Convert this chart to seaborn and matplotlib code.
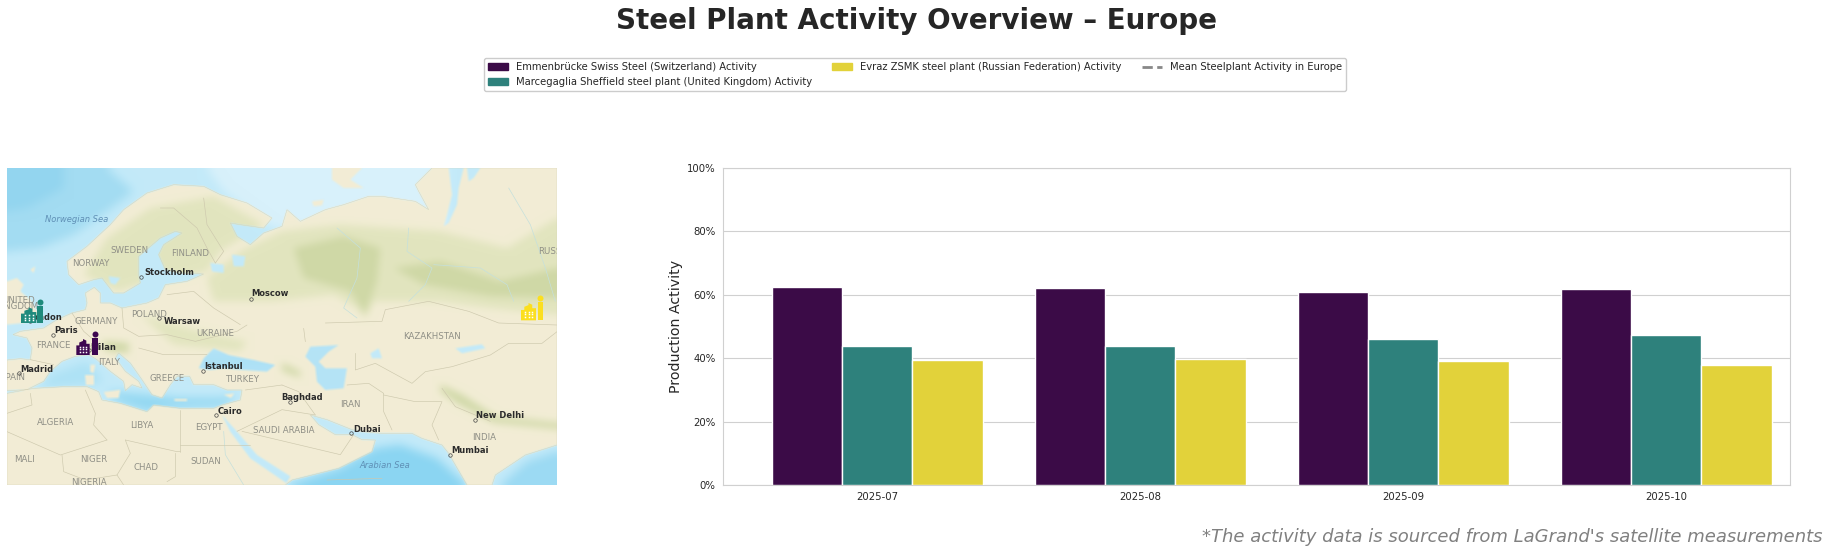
import matplotlib
matplotlib.use("Agg")
import matplotlib.pyplot as plt
from matplotlib.lines import Line2D
from matplotlib.patches import Patch
from matplotlib.ticker import PercentFormatter
import numpy as np
import pandas as pd
import seaborn as sns

months = ["2025-07", "2025-08", "2025-09", "2025-10"]
emmen = [62.4, 62.1, 61.0, 61.7]
sheffield = [44.0, 44.0, 45.9, 47.4]
zsmk = [39.3, 39.6, 39.0, 37.7]
series_names = ["Emmenbrücke Swiss Steel (Switzerland) Activity",
                "Marcegaglia Sheffield steel plant (United Kingdom) Activity",
                "Evraz ZSMK steel plant (Russian Federation) Activity"]
mean_name = "Mean Steelplant Activity in Europe"
bar_colors = ["#3b0b47", "#2e817c", "#e2d23a"]
icon_colors = ["#3d0650", "#1f8a7c", "#fbdf1f"]

# Base map outlines, in a 1650 x 951 map coordinate frame
land_main = [(0,576),(40,572),(70,575),(75,540),(60,510),(18,500),(40,490),(110,480),(150,455),(195,435),(235,425),(240,405),(235,375),(262,358),(280,375),(280,405),(310,405),(345,420),(420,405),(455,390),(475,350),(540,340),(590,318),(520,315),(475,305),(455,260),(470,230),(525,195),(505,190),(460,210),(395,265),(395,320),(400,345),(350,375),(320,375),(285,330),(260,335),(215,350),(185,320),(180,280),(240,235),(310,170),(350,125),(420,75),(500,50),(590,55),(640,80),(720,105),(795,150),(770,180),(700,170),(670,165),(690,205),(730,230),(770,195),(825,175),(840,125),(880,160),(955,125),(1010,110),(1085,85),(1125,85),(1225,100),(1265,125),(1235,70),(1225,50),(1275,0),(1650,0),(1650,831),(1555,861),(1465,921),(1455,951),(1380,951),(1325,856),(1305,831),(1245,811),(1215,796),(1125,796),(1065,791),(1035,785),(960,755),(910,741),(935,770),(985,800),(1035,800),(1065,815),(1105,816),(1095,851),(995,901),(855,936),(835,951),(0,951),(0,676),(80,661),(170,656),(240,656),(275,671),(285,696),(340,706),(420,731),(440,711),(520,721),(620,721),(645,711),(700,696),(705,666),(660,666),(620,650),(560,650),(548,625),(510,625),(490,650),(465,690),(435,680),(405,635),(370,585),(335,555),(325,570),(355,610),(395,640),(405,660),(375,650),(355,668),(350,640),(310,610),(270,575),(245,560),(205,565),(165,580),(130,610),(110,640),(60,665),(0,668)]
islands = [
    [(0,340),(30,330),(50,350),(40,370),(70,395),(90,430),(110,450),(50,465),(0,470)],
    [(235,620),(260,620),(260,652),(238,652)],
    [(250,590),(265,590),(260,615),(250,612)],
    [(290,672),(340,665),(335,690),(300,690)],
    [(650,680),(682,676),(672,690)],
    [(500,692),(540,692),(540,700),(505,700)],
    [(975,0),(1065,0),(1030,35),(1070,60),(1010,60),(975,35)],
    [(915,100),(950,95),(945,112),(920,115)],
    [(70,305),(85,295),(80,315)],
]
water_polys = [
    [(575,601),(590,571),(620,541),(665,561),(740,576),(805,591),(780,611),(710,606),(650,601),(610,606)],
    [(895,566),(910,536),(995,531),(965,551),(935,581),(955,601),(1020,601),(1010,661),(955,666),(930,641),(925,596)],
    [(1090,556),(1115,541),(1125,571),(1095,571)],
    [(1345,541),(1425,529),(1435,541),(1365,556)],
    [(645,741),(690,791),(750,861),(850,925),(838,945),(810,926),(730,871),(670,791)],
    [(1325,0),(1370,0),(1355,60),(1350,110),(1325,165),(1310,175),(1320,140),(1335,80)],
    [(1380,0),(1420,0),(1400,30),(1385,40)],
    [(610,285),(650,290),(650,315),(615,310)],
    [(675,260),(715,265),(710,295),(680,295)],
    [(305,325),(340,330),(325,350),(310,345)],
]
sea_tones = [
    ([(0,0),(300,0),(380,70),(300,130),(200,200),(100,240),(0,250)], "#a3dcf2"),
    ([(0,0),(170,0),(170,60),(60,120),(0,130)], "#93d5ef"),
    ([(600,0),(1320,0),(1320,180),(800,180),(650,70)], "#d8f1fb"),
    ([(300,670),(420,680),(520,690),(640,690),(690,680),(650,715),(500,720),(420,730),(330,700)], "#93d8f2"),
    ([(100,660),(130,620),(240,580),(290,640),(250,650)], "#aee2f5"),
    ([(840,951),(1000,900),(1105,840),(1180,830),(1290,870),(1380,951)], "#8bd5f2"),
    ([(1480,951),(1560,880),(1650,850),(1650,951)], "#9cdaf3"),
    ([(570,540),(820,540),(820,620),(570,620)], "#aee1f6"),
    ([(880,520),(1030,520),(1030,680),(880,680)], "#b4e3f6"),
]
soft_green = [
    [(600,330),(700,250),(825,190),(1000,170),(1300,190),(1500,240),(1650,150),(1650,440),(1450,420),(1300,400),(1100,400),(1075,450),(1050,420),(980,380),(800,400),(620,400)],
    [(230,320),(300,210),(430,120),(620,85),(770,170),(640,250),(600,310),(480,340),(400,350),(330,370)],
    [(400,440),(540,480),(720,520),(700,550),(500,530)],
]
strong_green = [
    [(860,240),(1010,205),(1120,240),(1110,340),(1075,440),(1030,370),(890,330)],
    [(1160,300),(1300,280),(1480,340),(1650,300),(1650,390),(1450,385),(1250,350)],
    [(285,520),(365,525),(365,555),(295,548)],
    [(1300,650),(1365,680),(1465,745),(1650,765),(1650,782),(1460,763),(1355,708),(1300,670)],
    [(825,585),(880,611),(880,628),(825,608)],
]
border_lines = [
    [(0,736),(75,711),(70,676)],
    [(0,791),(160,861),(300,816)],
    [(235,666),(265,736),(260,771),(300,816)],
    [(520,726),(520,851)],
    [(355,816),(510,851),(520,851)],
    [(520,831),(730,831)],
    [(505,856),(505,926),(480,941)],
    [(355,816),(370,856),(330,921),(350,951)],
    [(165,861),(170,911),(235,936),(330,921)],
    [(955,465),(1125,460),(1135,425),(1265,400),(1385,430),(1475,465),(1650,471)],
    [(890,481),(895,521)],
    [(1045,556),(1045,606),(1105,586),(1215,646),(1255,611),(1335,596),(1450,561),(1505,526),(1605,526),(1650,491)],
    [(1020,651),(1085,646),(1130,676),(1130,731),(1155,786)],
    [(1130,681),(1225,701),(1305,701),(1275,771),(1295,816)],
    [(1305,661),(1345,716),(1450,760)],
    [(825,651),(875,671),(925,741)],
    [(715,666),(825,651)],
    [(690,790),(825,725),(925,741)],
    [(705,790),(1000,860),(1040,800)],
    [(960,936),(1125,931)],
    [(345,420),(350,480),(395,505),(480,500),(565,520),(690,490),(720,471)],
    [(195,435),(230,490),(265,520),(230,555)],
    [(480,380),(560,370),(620,420),(700,470)],
    [(70,575),(140,590)],
    [(460,120),(500,120),(570,180),(600,240),(625,285)],
    [(590,90),(600,170),(650,250),(625,285)],
    [(395,540),(470,560),(600,560)],
]
river_lines = [
    [(1205,180),(1200,250),(1275,300),(1255,350),(1205,400)],
    [(1505,60),(1570,170),(1615,300),(1645,400)],
    [(990,180),(1060,240),(1050,330),(1010,420),(1050,450)],
    [(1280,290),(1420,300),(1500,350),(1520,400)],
    [(650,790),(655,860),(710,951)],
]
country_labels = [("SWEDEN",368,247),("NORWAY",250,286),("FINLAND",550,257),("POLAND",425,440),("GERMANY",268,461),("UKRAINE",625,496),("FRANCE",140,531),("ITALY",305,584),("GREECE",480,631),("TURKEY",708,633),("KAZAKHSTAN",1275,506),("IRAN",1030,710),("ALGERIA",145,763),("LIBYA",403,773),("EGYPT",605,780),("SAUDI ARABIA",830,788),("INDIA",1432,808),("MALI",53,876),("NIGER",260,876),("CHAD",416,897),("SUDAN",595,880),("NIGERIA",245,943),("SPAIN",18,628),("RUSSIA",1640,250),("UNITED",35,397),("KINGDOM",32,415)]
city_labels = [("Stockholm",487,313,403,326),("Moscow",790,377,733,392),("Warsaw",525,459,455,451),("London",112,448,70,460),("Paris",177,488,138,501),("Milan",290,537,245,545),("Madrid",88,603,35,616),("Istanbul",650,596,588,609),("Baghdad",885,689,850,703),("Cairo",668,729,626,741),("Dubai",1080,783,1033,794),("New Delhi",1480,744,1405,757),("Mumbai",1390,848,1330,861)]
sea_labels = [("Norwegian Sea",208,155),("Arabian Sea",1133,892)]
building_boxes = [(208,248,513,561),(42,88,418,465),(1542,1587,405,457)]
chimney_boxes = [(255,273,493,561),(90,108,395,465),(1592,1608,385,457)]

sns.set_theme(style="whitegrid")
plt.rcParams["font.family"] = ["DejaVu Sans"]
W, H = 1828, 554
fig = plt.figure(figsize=(W/100, H/100), dpi=100)

def px_axes(x0, x1, y0, y1):
    return fig.add_axes([x0/W, 1-y1/H, (x1-x0)/W, (y1-y0)/H])

def soft(img, passes=2, r=1):
    k = np.ones(2*r+1)/(2*r+1)
    out = img.astype(float)
    for _ in range(passes):
        for axis in (0, 1):
            pad = [(r, r) if a == axis else (0, 0) for a in range(3)]
            p = np.pad(out, pad, mode="edge")
            out = np.apply_along_axis(lambda v: np.convolve(v, k, mode="valid"), axis, p)
    return out

def paint(draw, face):
    f = plt.figure(figsize=(5.5, 3.17), dpi=100)
    a = f.add_axes([0, 0, 1, 1])
    a.set_xlim(0, 1650); a.set_ylim(951, 0); a.axis("off")
    a.add_patch(plt.Rectangle((0, 0), 1650, 951, color=face, lw=0))
    draw(a)
    f.canvas.draw()
    rgb = np.asarray(f.canvas.buffer_rgba())[..., :3].copy()
    plt.close(f)
    return rgb / 255

def draw_sea(a):
    for p, c in sea_tones:
        a.fill(*zip(*p), color=c, lw=0)

def draw_ground(a):
    for p in soft_green:
        a.fill(*zip(*p), color="#e2e5bf", lw=0)
    for p in strong_green:
        a.fill(*zip(*p), color="#cfd8a6", lw=0)

def draw_mask(a):
    a.fill(*zip(*land_main), color="white", lw=0)
    for p in islands:
        a.fill(*zip(*p), color="white", lw=0)
    for p in water_polys:
        a.fill(*zip(*p), color="black", lw=0)

def base_map():
    sea = soft(paint(draw_sea, "#c3eaf9"), passes=2, r=5)
    ground = soft(paint(draw_ground, "#f2edd5"), passes=2, r=4)
    mask = soft(paint(draw_mask, "black"), passes=1, r=1)
    return sea*(1-mask) + ground*mask

# ---------- map
m = px_axes(7, 557, 168, 485)
m.imshow(base_map(), extent=(0, 1650, 951, 0), aspect="auto", interpolation="bilinear", zorder=0)
m.set_xlim(0, 1650); m.set_ylim(951, 0); m.axis("off")
for l in river_lines:
    m.plot(*zip(*l), color="#c5e0dc", lw=0.5, zorder=1)
for l in border_lines:
    m.plot(*zip(*l), color="#cdc8ad", lw=0.45, zorder=1.2)
m.fill(*zip(*land_main), fc="none", ec="#d3d2b8", lw=0.3, zorder=1.4)
for t, x, y in country_labels:
    m.text(x, y, t, ha="center", va="center", fontsize=6.2, color="#8f8f86", zorder=3, clip_on=True)
for t, x, y, cx, cy in city_labels:
    m.text(x, y, t, ha="center", va="center", fontsize=6, color="#2b2b2b", fontweight="bold", zorder=3, clip_on=True)
    m.plot([cx], [cy], "o", ms=2.5, mfc="none", mec="#444444", mew=0.5, zorder=3)
for t, x, y in sea_labels:
    m.text(x, y, t, ha="center", va="center", fontsize=6, color="#5f8fb5", style="italic", zorder=3)
for (x0, x1, y0, y1), (c0, c1, c2, c3), c in zip(building_boxes, chimney_boxes, icon_colors):
    w = x1 - x0
    h = y1 - y0
    xs = [x0, x0, x0+.22*w, x0+.22*w, x0+.5*w, x0+.5*w, x0+.75*w, x0+.75*w, x1, x1]
    ys = [y1, y0+.4*h, y0+.4*h, y0+.22*h, y0+.12*h, y0, y0+.1*h, y0+.3*h, y0+.3*h, y1]
    m.fill(xs, ys, color=c, lw=0, zorder=4)
    m.fill([c0, c0, c1, c1], [c3, c2+.25*(c3-c2), c2+.25*(c3-c2), c3], color=c, lw=0, zorder=4)
    m.plot([(c0+c1)/2], [c2+.09*(c3-c2)], "o", ms=4.3, color=c, mew=0, zorder=4)
    for i in range(3):
        for j in range(3):
            m.plot([x0+(.25+.25*i)*w], [y0+(.5+.15*j)*h], "s", ms=1.1, color="white", mew=0, zorder=5)

# ---------- bars
ax = px_axes(722.5, 1790, 168, 485)
df = pd.DataFrame({
    "month": months*3,
    "plant": sum(([n]*len(months) for n in series_names), []),
    "activity": emmen + sheffield + zsmk,
})
sns.barplot(data=df, x="month", y="activity", hue="plant", hue_order=series_names,
            palette=bar_colors, saturation=1, width=0.8, edgecolor="white", linewidth=1,
            ax=ax, legend=False, zorder=3)
ax.set_xlim(-0.589, 3.47)
ax.set_ylim(0, 100)
ax.yaxis.set_major_formatter(PercentFormatter(100, decimals=0))
ax.set_yticks([0,20,40,60,80,100])
ax.set_xlabel("")
ax.set_ylabel("Production Activity", fontsize=10.2, color="#262626", labelpad=3)
ax.tick_params(axis="both", labelsize=7.3, colors="#262626", length=0, pad=5)
ax.grid(axis="y", color="#d0d0d0", lw=0.8)
ax.grid(axis="x", visible=False)
for s in ax.spines.values():
    s.set_color("#d0d0d0"); s.set_linewidth(0.8)

handles = [Patch(color=c, label=n) for c, n in zip(bar_colors, series_names)]
handles.append(Line2D([0],[0], color="#888888", lw=2, ls="--", label=mean_name))
fig.legend(handles=handles, ncol=3, loc="center", fontsize=7.2, handlelength=2,
           bbox_to_anchor=(915/W, 1-74.5/H), frameon=True, edgecolor="#cccccc",
           framealpha=1, borderaxespad=0)

fig.text(916/W, 1-21/H, "Steel Plant Activity Overview – Europe", ha="center", va="center",
         fontsize=20, fontweight="bold", color="#262626")
fig.text(1822/W, 1-537/H, "*The activity data is sourced from LaGrand's satellite measurements",
         ha="right", va="center", fontsize=12.95, style="italic", color="#808080")
fig.savefig("out.png", dpi=100)
